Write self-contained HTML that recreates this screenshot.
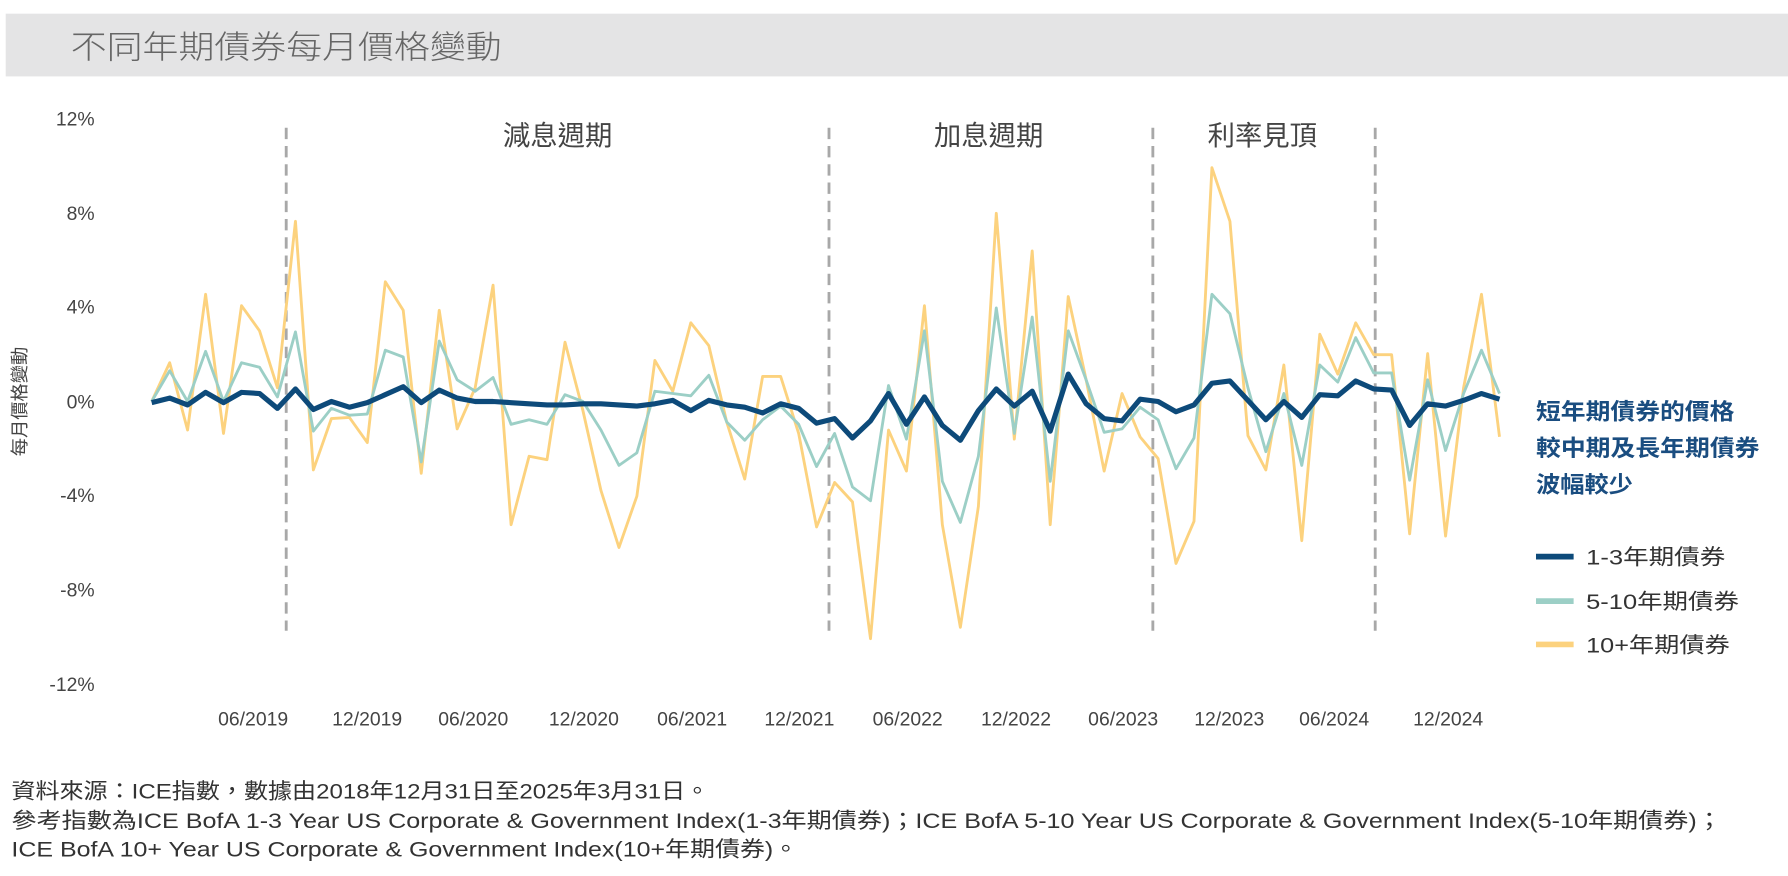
<!DOCTYPE html>
<html><head><meta charset="utf-8"><style>
html,body{margin:0;padding:0;background:#fff;}
svg{display:block;}
text{font-family:"Liberation Sans","Noto Sans CJK TC",sans-serif;}
</style></head><body>
<svg id="s" width="1788" height="876" viewBox="0 0 1568 768" preserveAspectRatio="none" xmlns="http://www.w3.org/2000/svg">
<rect x="5" y="12" width="1563" height="55" fill="#e4e4e5"/>
<text x="62" y="51" font-size="28" fill="#666" font-weight="300" textLength="378" lengthAdjust="spacingAndGlyphs">不同年期債券每月價格變動</text>
<g font-size="17" fill="#444" text-anchor="end">
<text x="83" y="110">12%</text><text x="83" y="193">8%</text><text x="83" y="275">4%</text>
<text x="83" y="358">0%</text><text x="83" y="440">-4%</text><text x="83" y="523">-8%</text><text x="83" y="606">-12%</text>
</g>
<text transform="translate(23,352) rotate(-90)" font-size="16" fill="#444" text-anchor="middle">每月價格變動</text>
<g font-size="17" fill="#444" text-anchor="middle">
<text x="222" y="636">06/2019</text><text x="322" y="636">12/2019</text><text x="415" y="636">06/2020</text>
<text x="512" y="636">12/2020</text><text x="607" y="636">06/2021</text><text x="701" y="636">12/2021</text>
<text x="796" y="636">06/2022</text><text x="891" y="636">12/2022</text><text x="985" y="636">06/2023</text>
<text x="1078" y="636">12/2023</text><text x="1170" y="636">06/2024</text><text x="1270" y="636">12/2024</text>
</g>
<g stroke="#a8a8a8" stroke-width="2.5" stroke-dasharray="10,6">
<line x1="251" y1="112" x2="251" y2="553"/><line x1="727" y1="112" x2="727" y2="553"/>
<line x1="1011" y1="112" x2="1011" y2="553"/><line x1="1206" y1="112" x2="1206" y2="553"/>
</g>
<g font-size="24" fill="#444" text-anchor="middle">
<text x="489" y="127">減息週期</text><text x="867" y="127">加息週期</text><text x="1107" y="127">利率見頂</text>
</g>
<g id="lines" fill="none" stroke-linejoin="round"></g>
<g font-size="20" fill="#1a4d80" font-weight="bold">
<text x="1347" y="368" textLength="174" lengthAdjust="spacingAndGlyphs">短年期債券的價格</text><text x="1347" y="400" textLength="196" lengthAdjust="spacingAndGlyphs">較中期及長年期債券</text><text x="1347" y="432" textLength="85" lengthAdjust="spacingAndGlyphs">波幅較少</text>
</g>
<line x1="1347" y1="488" x2="1380" y2="488" stroke="#0d4a7a" stroke-width="5"/>
<line x1="1347" y1="527" x2="1380" y2="527" stroke="#9ccfc6" stroke-width="5"/>
<line x1="1347" y1="565" x2="1380" y2="565" stroke="#fcd27e" stroke-width="5"/>
<g font-size="19" fill="#333">
<text x="1391" y="495" textLength="122" lengthAdjust="spacingAndGlyphs">1-3年期債券</text><text x="1391" y="534" textLength="134" lengthAdjust="spacingAndGlyphs">5-10年期債券</text><text x="1391" y="572" textLength="126" lengthAdjust="spacingAndGlyphs">10+年期債券</text>
</g>
<g font-size="19" fill="#333">
<text x="10" y="700" textLength="612" lengthAdjust="spacingAndGlyphs">資料來源：ICE指數，數據由2018年12月31日至2025年3月31日。</text>
<text x="10" y="726" textLength="1500" lengthAdjust="spacingAndGlyphs">參考指數為ICE BofA 1-3 Year US Corporate &amp; Government Index(1-3年期債券)；ICE BofA 5-10 Year US Corporate &amp; Government Index(5-10年期債券)；</text>
<text x="10" y="751" textLength="690" lengthAdjust="spacingAndGlyphs">ICE BofA 10+ Year US Corporate &amp; Government Index(10+年期債券)。</text>
</g>
</svg>
<script>
var a=[353,349,355,344,353,344,345,358,341,359,352,357,353,346,339,353,342,349,352,352,353,354,355,355,354,354,355,356,354,351,360,351,355,357,362,354,358,371,367,384,369,345,372,348,373,386,360,341,356,343,378,328,354,367,369,350,352,361,355,336,334,351,368,352,366,346,347,334,341,342,373,354,356,351,345,350];
var b=[352,325,352,308,352,318,322,348,291,378,358,364,363,307,313,405,299,333,343,331,372,368,372,346,352,377,408,397,343,345,347,329,370,386,368,356,372,409,380,427,439,338,385,290,422,458,400,270,380,278,422,290,333,379,376,357,368,411,384,258,275,340,396,345,408,320,335,296,327,327,421,333,395,345,307,345];
var c=[352,318,377,258,380,268,290,340,194,412,367,366,388,247,272,415,272,376,340,250,460,400,403,300,360,430,480,435,316,343,283,303,370,420,330,330,380,462,423,440,560,377,413,268,460,550,444,187,385,220,460,260,333,413,345,383,402,494,457,147,194,382,412,320,474,293,328,283,311,311,468,310,470,340,258,383];
function pl(d,col,w){var p=d.map(function(y,i){return (133+i*15.76).toFixed(1)+","+y}).join(" ");
var e=document.createElementNS("http://www.w3.org/2000/svg","polyline");e.setAttribute("points",p);e.setAttribute("stroke",col);e.setAttribute("stroke-width",w);document.getElementById("lines").appendChild(e);}
pl(c,"#fcd27e",2.5);pl(b,"#9ccfc6",2.5);pl(a,"#0d4a7a",4.5);
</script>
</body></html>
